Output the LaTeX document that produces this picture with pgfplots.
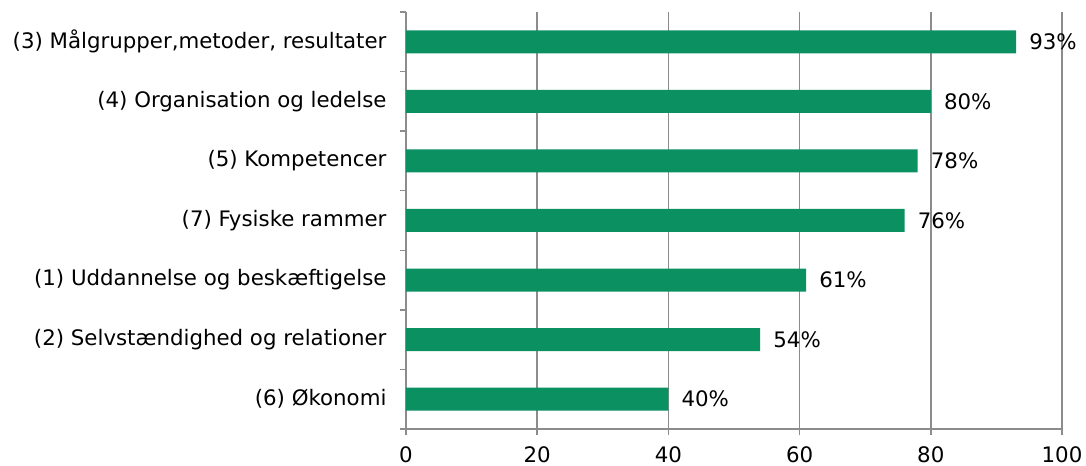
\documentclass[border=0pt]{standalone}
\usepackage{pgfplots}
\pgfplotsset{compat=1.18}
\usepackage{fontspec}
\setmainfont{DejaVu Sans}
\definecolor{bargreen}{HTML}{0B9062}
\definecolor{gridgray}{HTML}{8C8C8C}
\begin{document}
\begin{tikzpicture}
\begin{axis}[
  at={(0,0)}, anchor=south west,
  scale only axis,
  width=656bp, height=417bp,
  xbar, bar width=23bp,
  xmin=0, xmax=100,
  ymin=-0.5, ymax=6.5,
  xtick={0,20,...,100},
  ytick={0,...,6},
  yticklabels={(6) Økonomi,(2) Selvstændighed og relationer,(1) Uddannelse og beskæftigelse,(7) Fysiske rammer,(5) Kompetencer,(4) Organisation og ledelse,{(3) Målgrupper,metoder, resultater}},
  minor ytick={-0.5,0.5,...,6.5},
  axis lines*=left,
  axis line style={gridgray, line width=1.5pt},
  xmajorgrids,
  grid style={gridgray, line width=1.5pt},
  major y tick style={draw=none},
  major x tick style={gridgray, line width=1.5pt},
  minor y tick style={gridgray, line width=1.5pt},
  tick align=outside,
  major tick length=6bp,
  minor tick length=6bp,
  /pgf/number format/assume math mode=true,
  ticklabel style={font=\fontsize{21.4}{24}\selectfont, text=black},
  xticklabel style={yshift=-8bp},
  yticklabel style={xshift=-10bp},
  nodes near coords={\pgfmathprintnumber{\pgfplotspointmeta}\%},
  nodes near coords style={font=\fontsize{21.4}{24}\selectfont, black, inner xsep=13bp},
  point meta=x,
  clip=false,
]
\addplot[fill=bargreen, draw=none] coordinates {
 (40,0) (54,1) (61,2) (76,3) (78,4) (80,5) (93,6)
};
\end{axis}
\pgfresetboundingbox
\path[use as bounding box] (-406bp,-37bp) rectangle (680bp,429bp);
\end{tikzpicture}
\end{document}
